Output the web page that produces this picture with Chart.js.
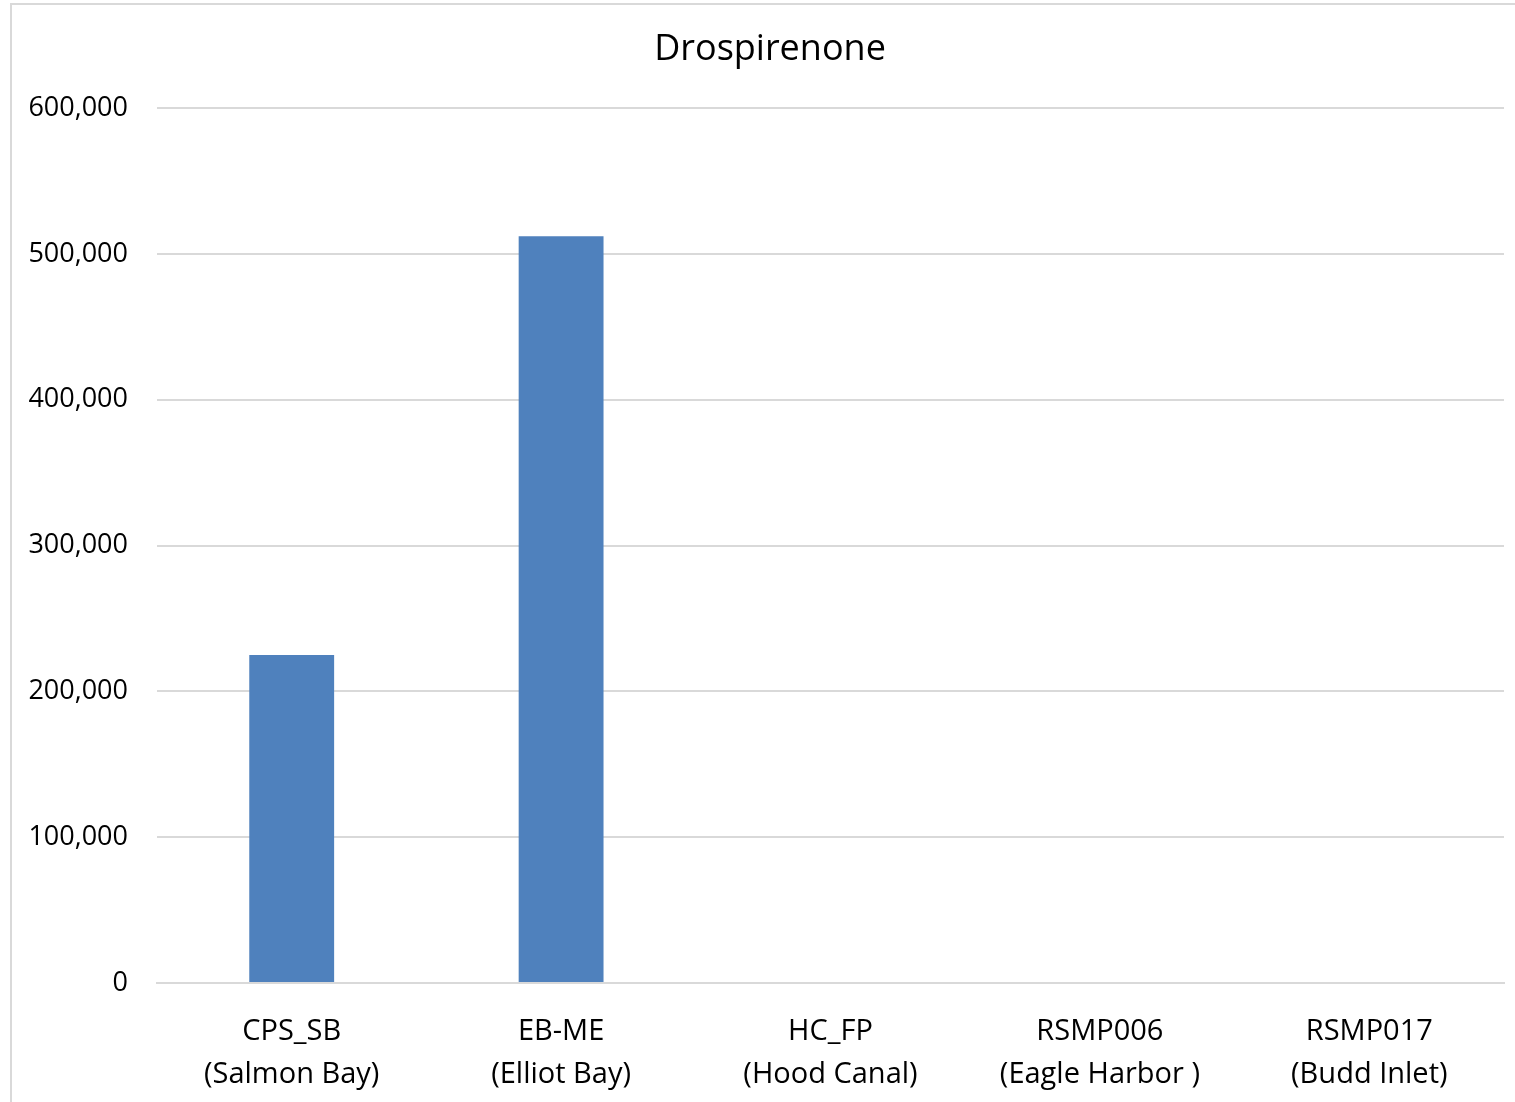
<!DOCTYPE html>
<html>
<head>
<meta charset="utf-8">
<script src="https://cdn.jsdelivr.net/npm/chart.js@4"></script>
<style>
  html, body { margin: 0; padding: 0; background: #fff; }
  #wrap { position: relative; width: 1515px; height: 1102px; }
  #frame { position: absolute; left: 10px; top: 3px; right: 0; bottom: 0;
           border-left: 2px solid #d9d9d9; border-top: 2px solid #d9d9d9; pointer-events: none; }
  canvas { position: absolute; left: 0; top: 0; }
</style>
</head>
<body>
<div id="wrap">
  <canvas id="c" width="1515" height="1102"></canvas>
  <div id="frame"></div>
</div>
<script>
const chartTitle = "Drospirenone";
const categories = [
  ["CPS_SB", "(Salmon Bay)"],
  ["EB-ME", "(Elliot Bay)"],
  ["HC_FP", "(Hood Canal)"],
  ["RSMP006", "(Eagle Harbor )"],
  ["RSMP017", "(Budd Inlet)"]
];
const values = [225000, 512000, 0, 0, 0];
const yMin = 0, yMax = 600000, yStep = 100000;

const FONT = "'Open Sans', Lato, 'DejaVu Sans', sans-serif";

const titlePlugin = {
  id: 'offsetTitle',
  afterDraw(chart) {
    const ctx = chart.ctx;
    ctx.save();
    ctx.font = "normal 36px " + FONT;
    ctx.fillStyle = '#000';
    ctx.textAlign = 'center';
    ctx.textBaseline = 'middle';
    ctx.fillText(chartTitle, 770, 50);
    ctx.restore();
  }
};

new Chart(document.getElementById('c'), {
  type: 'bar',
  data: {
    labels: categories,
    datasets: [{
      data: values,
      backgroundColor: '#4F81BD',
      borderWidth: 0,
      barPercentage: 0.315,
      categoryPercentage: 1.0
    }]
  },
  plugins: [titlePlugin],
  options: {
    responsive: false,
    animation: false,
    devicePixelRatio: 1,
    layout: { padding: { left: 0, right: 11, top: 108, bottom: 0 } },
    plugins: {
      legend: { display: false },
      tooltip: { enabled: false },
      title: { display: false }
    },
    scales: {
      y: {
        min: yMin, max: yMax,
        ticks: {
          stepSize: yStep,
          color: '#000',
          padding: 29,
          font: { family: FONT, size: 27 },
          callback: v => v.toLocaleString('en-US')
        },
        grid: { color: '#d9d9d9', lineWidth: 2, drawTicks: false },
        border: { display: false },
        afterFit: s => { s.width = 157; }
      },
      x: {
        ticks: {
          color: '#000',
          padding: 27,
          maxRotation: 0,
          autoSkip: false,
          font: { family: FONT, size: 29, lineHeight: 1.48 }
        },
        grid: { display: false, drawTicks: false },
        border: { display: true, color: '#d9d9d9', width: 2 },
        afterFit: s => { s.height = 119; }
      }
    }
  }
});
</script>
</body>
</html>
